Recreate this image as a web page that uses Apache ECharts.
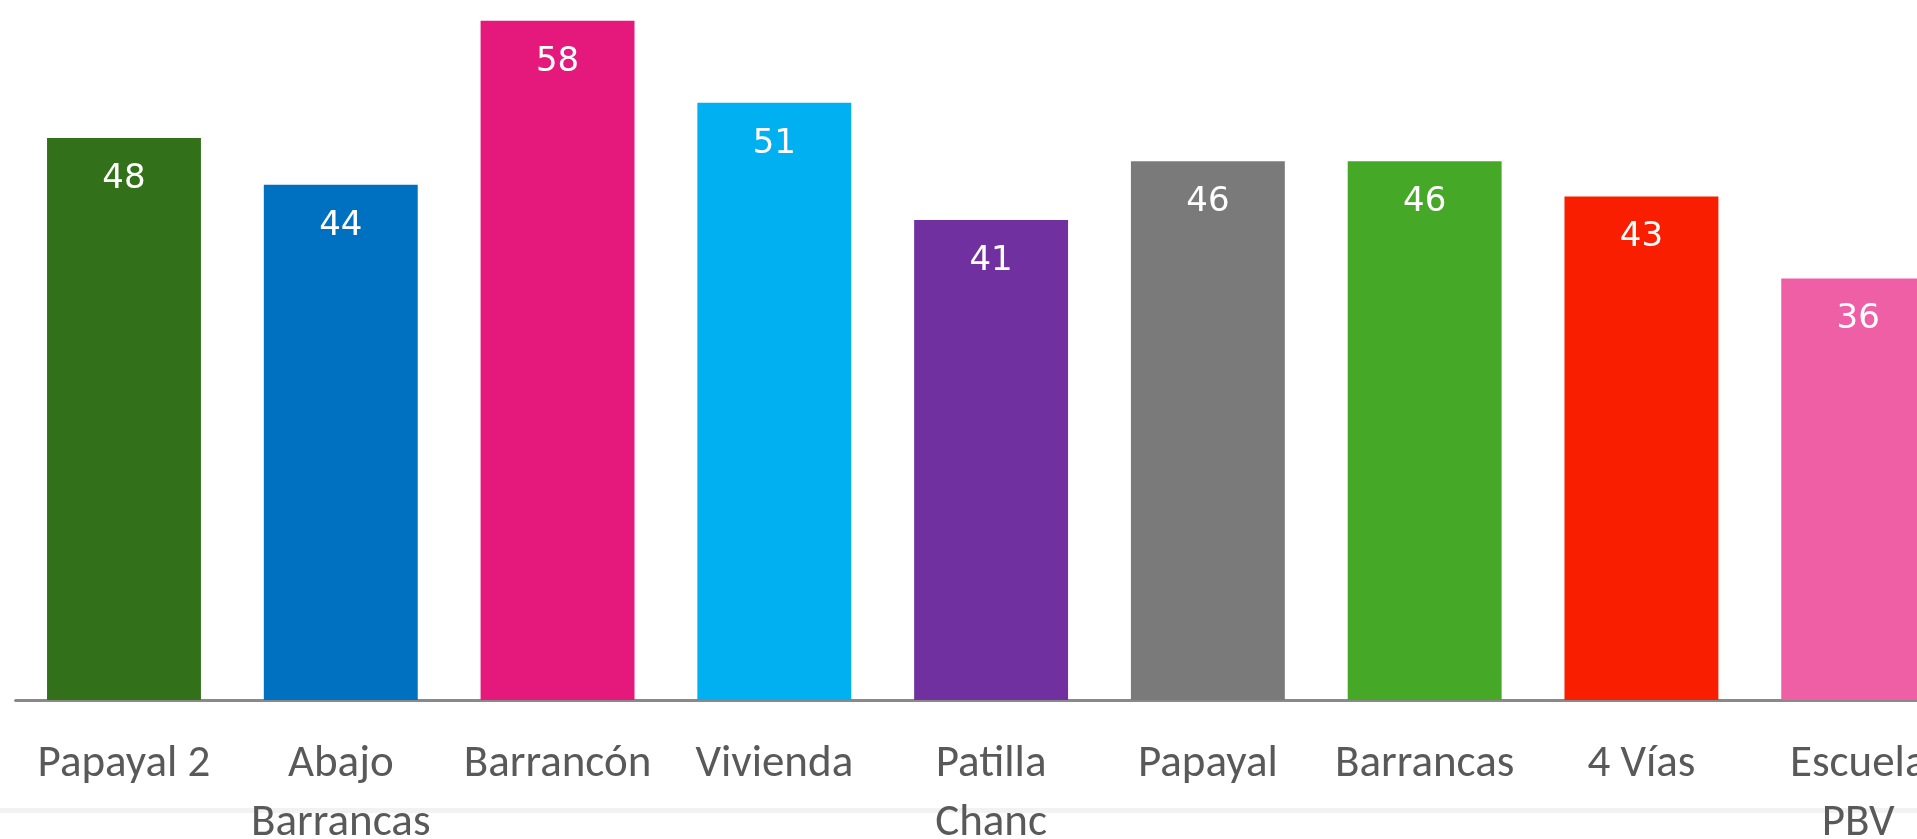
<!DOCTYPE html>
<html>
<head>
<meta charset="utf-8">
<script src="https://cdn.jsdelivr.net/npm/echarts@6/dist/echarts.min.js"></script>
<style>
  html, body { margin: 0; padding: 0; background: #ffffff; }
  #main { width: 1917px; height: 839px; }
</style>
</head>
<body>
<div id="main"></div>
<script>
  // datos del gráfico
  var categorias = ['Papayal 2', 'Abajo\nBarrancas', 'Barrancón', 'Vivienda', 'Patilla\nChanc', 'Papayal', 'Barrancas', '4 Vías', 'Escuela\nPBV'];
  var valores = [48, 44, 58, 51, 41, 46, 46, 43, 36];
  var colores = ['#33701A', '#0070C0', '#E5197C', '#00B0F0', '#7030A0', '#7A7A7A', '#46A827', '#FA1E00', '#EF5FA6'];

  var myChart = echarts.init(document.getElementById('main'));
  var fuente = 'Carlito, Lato, sans-serif';

  var option = {
    backgroundColor: '#ffffff',
    animation: false,
    grid: {
      left: 15.6,
      top: -2.6,
      width: 1951,
      height: 702.6,
      outerBoundsMode: 'none',
      containLabel: false
    },
    // linea gris clara de fondo
    graphic: [{
      type: 'rect',
      z: -10,
      shape: { x: 0, y: 808, width: 1917, height: 5 },
      style: { fill: '#f2f2f2' }
    }],
    xAxis: {
      type: 'category',
      data: categorias,
      offset: 4,
      axisLine: { show: true, lineStyle: { color: '#898989', width: 3 } },
      axisTick: { show: false },
      axisLabel: {
        interval: 0,
        margin: 31,
        color: '#595959',
        fontFamily: fuente,
        fontSize: 45,
        lineHeight: 59
      }
    },
    yAxis: {
      type: 'value',
      min: 0,
      max: 60,
      show: false,
      splitLine: { show: false }
    },
    series: [{
      type: 'bar',
      barCategoryGap: '29%',
      data: valores.map(function (v, i) {
        return { value: v, itemStyle: { color: colores[i] } };
      }),
      label: {
        show: true,
        position: 'insideTop',
        distance: 24,
        color: '#ffffff',
        fontFamily: 'DejaVu Sans',
        fontSize: 34
      }
    }]
  };

  myChart.setOption(option);
</script>
</body>
</html>
